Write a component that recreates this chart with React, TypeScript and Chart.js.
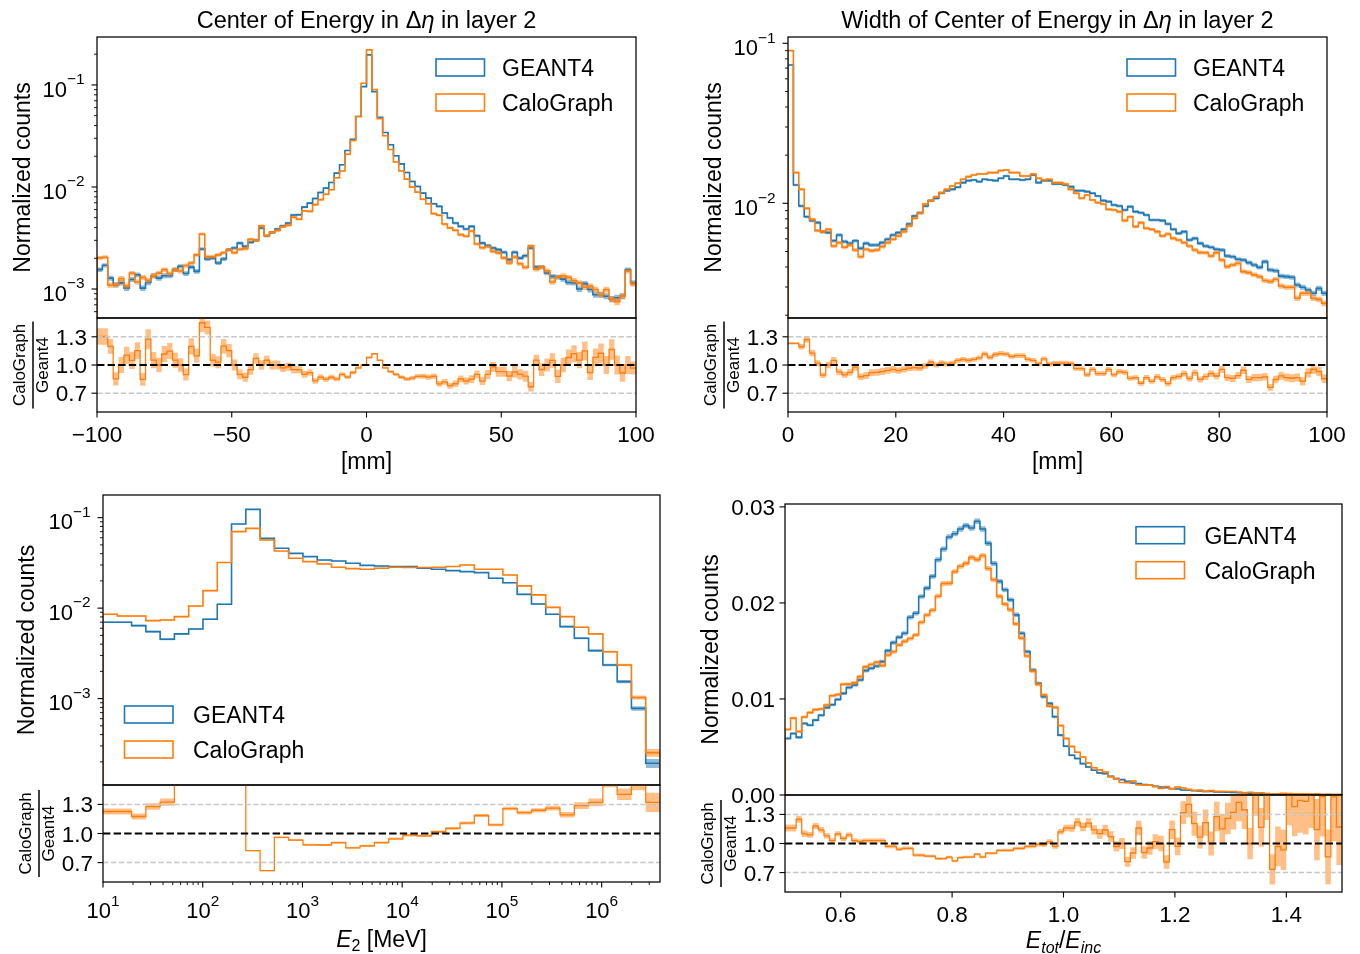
import React, { useEffect, useRef } from "react";
import { Chart, registerables } from "chart.js";

Chart.register(...registerables);

// ------------------------------------------------------------------ data
const seriesLabels = ["GEANT4", "CaloGraph"];
const ratioNumerator = "CaloGraph";
const ratioDenominator = "Geant4";
const yAxisLabel = "Normalized counts";

// Panel 1: Center of Energy in Δη in layer 2
const ceEtaTitle = ["Center of Energy in ", "Δ", "η", " in layer 2"];
const ceEtaXLabel = "[mm]";
const ceEtaRange = [-100, 100];
const ceEtaBins = 100;
const ceEtaGeant4 = [
  0.00155, 0.00171, 0.00128, 0.0011, 0.00115, 0.00102, 0.00124, 0.00138, 0.00102, 0.00116,
  0.00135, 0.00128, 0.00135, 0.00135, 0.00155, 0.00167, 0.00142, 0.00164, 0.00149, 0.00247,
  0.00197, 0.00201, 0.0018, 0.00197, 0.00243, 0.00252, 0.00282, 0.00262, 0.00287, 0.003,
  0.00396, 0.00333, 0.00359, 0.00387, 0.00417, 0.00443, 0.00531, 0.00535, 0.00635, 0.00695,
  0.00772, 0.00884, 0.00975, 0.01107, 0.01367, 0.01649, 0.02278, 0.0294, 0.049, 0.0963,
  0.197, 0.086, 0.0482, 0.0342, 0.0259, 0.0202, 0.01686, 0.01388, 0.01133, 0.01012,
  0.00871, 0.00778, 0.00685, 0.00645, 0.00555, 0.00496, 0.00443, 0.00411, 0.00387, 0.00411,
  0.00333, 0.00282, 0.00266, 0.00252, 0.00243, 0.00229, 0.00194, 0.00229, 0.00201, 0.00212,
  0.00252, 0.00164, 0.00164, 0.00144, 0.00133, 0.00131, 0.00125, 0.00116, 0.00115, 0.001,
  0.00113, 0.00099, 0.00088, 0.00088, 0.00085, 0.0008, 0.00082, 0.00085, 0.00155, 0.00115,
];
const ceEtaCaloGraph = [
  0.00202, 0.00205, 0.00109, 0.0011, 0.00127, 0.00107, 0.00143, 0.00117, 0.0013, 0.00122,
  0.00135, 0.00143, 0.00155, 0.00142, 0.00155, 0.0015, 0.0017, 0.0018, 0.00216, 0.00346,
  0.00207, 0.00207, 0.00216, 0.00227, 0.00243, 0.00227, 0.00245, 0.00249, 0.00307, 0.003,
  0.00416, 0.00333, 0.00359, 0.00375, 0.00409, 0.00421, 0.00504, 0.00482, 0.00584, 0.00577,
  0.00672, 0.00751, 0.00848, 0.00941, 0.0123, 0.01435, 0.02096, 0.02852, 0.049, 0.104,
  0.2206, 0.0903, 0.04675, 0.0318, 0.02331, 0.01757, 0.01433, 0.01194, 0.00997, 0.00891,
  0.00758, 0.00685, 0.00548, 0.00529, 0.00433, 0.00397, 0.00377, 0.00341, 0.00329, 0.0037,
  0.00276, 0.00254, 0.00261, 0.00234, 0.00226, 0.00202, 0.0018, 0.00206, 0.00177, 0.00163,
  0.00265, 0.00156, 0.00164, 0.00151, 0.00117, 0.00131, 0.00135, 0.0013, 0.00121, 0.00115,
  0.00104, 0.00107, 0.00099, 0.00088, 0.00099, 0.0008, 0.00075, 0.00085, 0.0015, 0.00112,
];
const ceEtaEvents = 250000;
const ceEtaXTicks = [-100, -50, 0, 50, 100];
const ceEtaXTickLabels = ["−100", "−50", "0", "50", "100"];
const ceEtaYDecades = [-3, -2, -1];
const ceEtaYLimits = [5.2e-4, 0.295];

// Panel 2: Width of Center of Energy in Δη in layer 2
const widthTitle = ["Width of Center of Energy in ", "Δ", "η", " in layer 2"];
const widthXLabel = "[mm]";
const widthRange = [0, 100];
const widthBins = 100;
const widthGeant4 = [
  0.0732, 0.01302, 0.00962, 0.00825, 0.00779, 0.00757, 0.00665, 0.00656, 0.00584, 0.00634,
  0.00576, 0.00562, 0.00584, 0.00523, 0.00562, 0.00549, 0.00549, 0.00568, 0.00596, 0.00634,
  0.00656, 0.00688, 0.00743, 0.00833, 0.00874, 0.00962, 0.01039, 0.01075, 0.01155, 0.012,
  0.01223, 0.01259, 0.01346, 0.01386, 0.01399, 0.01366, 0.01413, 0.01399, 0.01386, 0.01433,
  0.01482, 0.01413, 0.01413, 0.01399, 0.01413, 0.01504, 0.01346, 0.01386, 0.01386, 0.0132,
  0.0132, 0.01302, 0.01271, 0.012, 0.012, 0.01183, 0.01155, 0.01111, 0.01039, 0.01024,
  0.00976, 0.00962, 0.00908, 0.00953, 0.00887, 0.00874, 0.00845, 0.00787, 0.00787, 0.00779,
  0.00743, 0.00688, 0.00649, 0.00665, 0.0059, 0.00604, 0.00562, 0.00541, 0.00531, 0.00516,
  0.00511, 0.00469, 0.00464, 0.00447, 0.00442, 0.00426, 0.00412, 0.00398, 0.00432, 0.00383,
  0.00379, 0.00351, 0.00348, 0.00345, 0.00309, 0.00299, 0.00287, 0.00274, 0.00294, 0.00274,
];
const widthCaloGraph = [
  0.09, 0.01555, 0.01223, 0.0093, 0.00794, 0.00675, 0.00665, 0.00688, 0.00541, 0.00568,
  0.00531, 0.00549, 0.00511, 0.00464, 0.00516, 0.00506, 0.00511, 0.00536, 0.00568, 0.00596,
  0.00625, 0.00665, 0.00722, 0.00806, 0.00866, 0.0099, 0.01039, 0.011, 0.01166, 0.01223,
  0.01283, 0.01334, 0.01413, 0.01468, 0.01504, 0.01526, 0.01526, 0.01555, 0.01555, 0.016,
  0.01616, 0.01555, 0.01555, 0.01482, 0.01482, 0.01526, 0.01433, 0.01399, 0.01413, 0.01346,
  0.01346, 0.0132, 0.01223, 0.01155, 0.01075, 0.01128, 0.01049, 0.0101, 0.0099, 0.00917,
  0.00908, 0.00887, 0.00779, 0.00825, 0.00715, 0.00757, 0.00698, 0.00688, 0.00665, 0.00625,
  0.00643, 0.00604, 0.0059, 0.00568, 0.00541, 0.00511, 0.00492, 0.00492, 0.00469, 0.00492,
  0.00442, 0.00402, 0.00412, 0.00422, 0.00374, 0.00369, 0.00357, 0.00348, 0.00329, 0.00324,
  0.00335, 0.00304, 0.00299, 0.00299, 0.00255, 0.00274, 0.00274, 0.00255, 0.00251, 0.00237,
];
const widthEvents = 250000;
const widthXTicks = [0, 20, 40, 60, 80, 100];
const widthXTickLabels = ["0", "20", "40", "60", "80", "100"];
const widthYDecades = [-2, -1];
const widthYLimits = [0.00192, 0.1095];

// Panel 3: E_2 [MeV]
const e2XLabel = ["E", "2", " [MeV]"];
const e2BinEdgeExponents = [
  1.0, 1.1432, 1.2864, 1.4296, 1.5728, 1.716, 1.8592, 2.0025, 2.1457, 2.2889,
  2.4321, 2.5753, 2.7185, 2.8617, 3.0049, 3.1481, 3.2913, 3.4345, 3.5777, 3.7209,
  3.8642, 4.0074, 4.1506, 4.2938, 4.437, 4.5802, 4.7234, 4.8666, 5.0098, 5.153,
  5.2962, 5.4394, 5.5826, 5.7259, 5.8691, 6.0123, 6.1555, 6.2987, 6.4419, 6.5851,
];
const e2Geant4 = [
  0.00697, 0.00697, 0.00641, 0.0055, 0.00453, 0.00519, 0.00589, 0.00754, 0.01102, 0.0851,
  0.1236, 0.0591, 0.0459, 0.0403, 0.0371, 0.034, 0.0332, 0.0313, 0.0297, 0.0292,
  0.0288, 0.0288, 0.0276, 0.0269, 0.026, 0.0253, 0.0247, 0.0214, 0.0191, 0.0142,
  0.0111, 0.00855, 0.00625, 0.00465, 0.00339, 0.00235, 0.00154, 0.00078, 0.000193,
];
const e2CaloGraph = [
  0.00855, 0.00819, 0.00819, 0.00728, 0.0074, 0.00805, 0.01057, 0.0156, 0.0319, 0.07,
  0.0762, 0.0567, 0.0428, 0.0356, 0.0327, 0.0308, 0.0283, 0.0273, 0.0269, 0.0276,
  0.0283, 0.0281, 0.0281, 0.0283, 0.0288, 0.03, 0.0269, 0.0269, 0.0232, 0.0176,
  0.014, 0.0102, 0.00805, 0.00614, 0.00519, 0.0033, 0.00235, 0.00103, 0.000253,
];
const e2Events = 400000;
const e2XDecades = [1, 2, 3, 4, 5, 6];
const e2YDecades = [-3, -2, -1];
const e2YLimits = [1.11e-4, 0.178];

// Panel 4: E_tot / E_inc
const respXLabel = ["E", "tot", "/", "E", "inc"];
const respRange = [0.5, 1.5];
const respBins = 100;
const respGeant4 = [
  0.00588, 0.0064, 0.006, 0.00745, 0.00727, 0.0078, 0.0083, 0.0091, 0.0094, 0.00995,
  0.01058, 0.0112, 0.01145, 0.01197, 0.01295, 0.01319, 0.01343, 0.01389, 0.01503, 0.01587,
  0.01643, 0.01684, 0.01851, 0.01893, 0.02067, 0.02154, 0.02276, 0.0245, 0.02561, 0.02687,
  0.02721, 0.0277, 0.02805, 0.0278, 0.0285, 0.0277, 0.0262, 0.0241, 0.02224, 0.02137,
  0.02032, 0.01876, 0.01684, 0.01493, 0.01302, 0.01162, 0.01023, 0.00954, 0.00814, 0.00623,
  0.00508, 0.00414, 0.0038, 0.00327, 0.00292, 0.00258, 0.0023, 0.00223, 0.00195, 0.00171,
  0.0016, 0.00143, 0.00125, 0.00118, 0.00108, 0.00101, 0.0009, 0.00084, 0.00077, 0.00066,
  0.00063, 0.00052, 0.00049, 0.00045, 0.00042, 0.00038, 0.00036, 0.00033, 0.00031, 0.00028,
  0.00026, 0.00023, 0.00022, 0.00019, 0.00018, 0.00016, 0.00015, 0.00013, 0.00012, 0.00011,
  0.0001, 0.00009, 0.000085, 0.000075, 0.00007, 0.000062, 0.000058, 0.00005, 0.000047, 0.00004,
];
const respCaloGraph = [
  0.00682, 0.008, 0.0066, 0.00812, 0.00858, 0.00889, 0.00896, 0.00937, 0.01034, 0.01045,
  0.01153, 0.01154, 0.01168, 0.01233, 0.01334, 0.01359, 0.01383, 0.01347, 0.01458, 0.01492,
  0.01561, 0.016, 0.01629, 0.01666, 0.01798, 0.01874, 0.01923, 0.0207, 0.02202, 0.02203,
  0.02326, 0.02382, 0.02412, 0.02474, 0.02451, 0.02493, 0.02358, 0.02241, 0.02068, 0.01987,
  0.0193, 0.01782, 0.01633, 0.01448, 0.01289, 0.0115, 0.01043, 0.00925, 0.00912, 0.00723,
  0.00589, 0.00505, 0.00445, 0.00396, 0.00333, 0.00284, 0.00262, 0.00239, 0.00189, 0.00171,
  0.0013, 0.00129, 0.00145, 0.00107, 0.00103, 0.00103, 0.0009, 0.00068, 0.00088, 0.00064,
  0.00083, 0.00073, 0.00059, 0.00048, 0.00051, 0.00038, 0.00046, 0.00038, 0.00039, 0.00037,
  0.00037, 0.00031, 0.00022, 0.00029, 0.00021, 0.00024, 0.00011, 0.000126, 0.000112, 0.000165,
  0.000138, 0.00013, 0.000122, 0.000116, 0.00008, 0.000092, 0.00005, 0.000074, 0.000055, 0.000047,
];
const respEvents = 350000;
const respXTicks = [0.6, 0.8, 1.0, 1.2, 1.4];
const respXTickLabels = ["0.6", "0.8", "1.0", "1.2", "1.4"];
const respYTicks = [0, 0.01, 0.02, 0.03];
const respYTickLabels = ["0.00", "0.01", "0.02", "0.03"];
const respYLimits = [0, 0.0303];

// Ratio panels
const ratioTicks = [0.7, 1.0, 1.3];
const ratioTickLabels = ["0.7", "1.0", "1.3"];
const ratioLimits = [0.5, 1.5];
// the reference draws each ratio step one bin to the right of its histogram bin
const ratioBinOffset = 1;

// ------------------------------------------------------------------ style / layout
const PAGE_W = 1360;
const PAGE_H = 954;
const FONT = '"Liberation Sans", Arial, Helvetica, sans-serif';
const BLUE = "#1f77b4";
const ORANGE = "#ff7f0e";
const BLUE_FILL = "rgba(31,119,180,0.5)";
const ORANGE_FILL = "rgba(255,127,14,0.5)";
const TICK_FS = 22.5;
const LABEL_FS = 23;
const TITLE_FS = 23.5;
const LEGEND_FS = 23;
const FRAC_FS = 17;

type Box = { l: number; r: number; t: number; b: number };
type Run = { t: string; size: number; it?: boolean; dy?: number };
type TickDef = { v: number; runs?: Run[]; minor?: boolean };

// ------------------------------------------------------------------ helpers
function fontOf(r: Run) {
  return `${r.it ? "italic " : ""}${r.size}px ${FONT}`;
}
function runsWidth(ctx: CanvasRenderingContext2D, runs: Run[]) {
  let w = 0;
  for (const r of runs) {
    ctx.font = fontOf(r);
    w += ctx.measureText(r.t).width;
  }
  return w;
}
function drawRuns(ctx: CanvasRenderingContext2D, runs: Run[], x: number, y: number, align: string) {
  const w = runsWidth(ctx, runs);
  let cx = align === "left" ? x : align === "center" ? x - w / 2 : x - w;
  ctx.textAlign = "left";
  ctx.textBaseline = "alphabetic";
  for (const r of runs) {
    ctx.font = fontOf(r);
    ctx.fillText(r.t, cx, y + (r.dy || 0));
    cx += ctx.measureText(r.t).width;
  }
}
function drawRotated(ctx: CanvasRenderingContext2D, runs: Run[], x: number, y: number) {
  ctx.save();
  ctx.translate(x, y);
  ctx.rotate(-Math.PI / 2);
  drawRuns(ctx, runs, 0, 0, "center");
  ctx.restore();
}

function uniformEdges(range: number[], bins: number) {
  const e: number[] = [];
  for (let i = 0; i <= bins; i++) e.push(range[0] + ((range[1] - range[0]) * i) / bins);
  return e;
}
function histPoints(edges: number[], vals: number[], floor: number) {
  const pts = [{ x: edges[0], y: floor }];
  vals.forEach((v, i) => pts.push({ x: edges[i], y: v }));
  pts.push({ x: edges[vals.length], y: floor });
  return pts;
}
function stairPoints(edges: number[], vals: number[]) {
  const pts = vals.map((v, i) => ({ x: edges[i], y: v }));
  pts.push({ x: edges[vals.length], y: vals[vals.length - 1] });
  return pts;
}
function offsetSteps(vals: number[], off: number) {
  return vals.map((_, j) => vals[Math.max(j - off, 0)]);
}
function lineDS(points: any[], color: string, width: number, order: number) {
  return {
    data: points,
    borderColor: color,
    backgroundColor: color,
    borderWidth: width,
    pointRadius: 0,
    pointHoverRadius: 0,
    fill: false,
    stepped: "before",
    tension: 0,
    order,
  };
}
function bandDS(edges: number[], lo: number[], hi: number[], color: string, order: number) {
  return [
    {
      data: stairPoints(edges, hi),
      borderColor: "rgba(0,0,0,0)",
      borderWidth: 0,
      pointRadius: 0,
      fill: false,
      stepped: "before",
      order: order + 1,
    },
    {
      data: stairPoints(edges, lo),
      borderColor: "rgba(0,0,0,0)",
      backgroundColor: color,
      borderWidth: 0,
      pointRadius: 0,
      fill: "-1",
      stepped: "before",
      order,
    },
  ];
}

function logMajor(decades: number[], size: number, supDy: number): TickDef[] {
  return decades.map((d) => ({
    v: Math.pow(10, d),
    runs: [
      { t: "10", size },
      { t: String(d).replace("-", "−"), size: size * 0.7, dy: supDy },
    ],
  }));
}
function logMinor(min: number, max: number): TickDef[] {
  const out: TickDef[] = [];
  for (let d = Math.floor(Math.log10(min)); d <= Math.ceil(Math.log10(max)); d++) {
    for (let m = 2; m <= 9; m++) {
      const v = m * Math.pow(10, d);
      if (v >= min && v <= max) out.push({ v, minor: true });
    }
  }
  return out;
}
function linearTicks(vals: number[], labels: string[]): TickDef[] {
  return vals.map((v, i) => ({ v, runs: [{ t: labels[i], size: TICK_FS }] }));
}

function drawLegend(ctx: CanvasRenderingContext2D, boxL: number, boxT: number, textL: number) {
  const colors = [BLUE, ORANGE];
  seriesLabels.forEach((name, i) => {
    const top = boxT + i * 35;
    ctx.strokeStyle = colors[i];
    ctx.lineWidth = 1.6;
    ctx.setLineDash([]);
    ctx.strokeRect(boxL, top, 48.5, 17);
    ctx.fillStyle = "#000";
    drawRuns(ctx, [{ t: name, size: LEGEND_FS }], textL, top + 17, "left");
  });
}
function drawYLabel(ctx: CanvasRenderingContext2D, box: Box, offset: number) {
  ctx.fillStyle = "#000";
  drawRotated(ctx, [{ t: yAxisLabel, size: LABEL_FS }], box.l - offset + 0.358 * LABEL_FS, (box.t + box.b) / 2);
}
function drawRatioLabel(ctx: CanvasRenderingContext2D, box: Box) {
  const cy = (box.t + box.b) / 2;
  ctx.fillStyle = "#000";
  drawRotated(ctx, [{ t: ratioNumerator, size: FRAC_FS }], box.l - 72.3, cy);
  drawRotated(ctx, [{ t: ratioDenominator, size: FRAC_FS }], box.l - 49.3, cy);
  ctx.strokeStyle = "#000";
  ctx.lineWidth = 1.5;
  ctx.setLineDash([]);
  ctx.beginPath();
  ctx.moveTo(box.l - 64, cy - 43.5);
  ctx.lineTo(box.l - 64, cy + 43.5);
  ctx.stroke();
}
function titleRuns(parts: string[]): Run[] {
  return parts.map((p, i) => ({ t: p, size: TITLE_FS, it: i === 2 }));
}

// ------------------------------------------------------------------ plugin
function decoPlugin(id: string, spec: any) {
  return {
    id,
    afterDatasetsDraw(chart: any) {
      if (!spec.refLines) return;
      const { ctx, chartArea: a, scales } = chart;
      ctx.save();
      const lines = [
        { v: 0.7, c: "#c8c8c8", w: 1.5, d: [5.5, 2.4] },
        { v: 1.3, c: "#c8c8c8", w: 1.5, d: [5.5, 2.4] },
        { v: 1.0, c: "#000000", w: 2, d: [7.4, 3.2] },
      ];
      for (const ln of lines) {
        const y = scales.y.getPixelForValue(ln.v);
        ctx.strokeStyle = ln.c;
        ctx.lineWidth = ln.w;
        ctx.setLineDash(ln.d);
        ctx.beginPath();
        ctx.moveTo(a.left, y);
        ctx.lineTo(a.right, y);
        ctx.stroke();
      }
      ctx.restore();
    },
    afterDraw(chart: any) {
      const { ctx, chartArea: a, scales } = chart;
      ctx.save();
      ctx.setLineDash([]);
      ctx.strokeStyle = "#000";
      ctx.lineWidth = 1.25;
      ctx.strokeRect(a.left, a.top, a.right - a.left, a.bottom - a.top);
      ctx.fillStyle = "#000";
      for (const tk of spec.yTicks || []) {
        const y = scales.y.getPixelForValue(tk.v);
        ctx.lineWidth = tk.minor ? 0.9 : 1.1;
        ctx.beginPath();
        ctx.moveTo(a.left, y);
        ctx.lineTo(a.left - (tk.minor ? 3 : 5.5), y);
        ctx.stroke();
        if (tk.runs) {
          const sup = tk.runs.length > 1;
          drawRuns(ctx, tk.runs, a.left - (sup ? 12.5 : 10), y + (sup ? 11.7 : 8), "right");
        }
      }
      for (const tk of spec.xTicks || []) {
        const x = scales.x.getPixelForValue(tk.v);
        ctx.lineWidth = tk.minor ? 0.9 : 1.1;
        ctx.beginPath();
        ctx.moveTo(x, a.bottom);
        ctx.lineTo(x, a.bottom + (tk.minor ? 3 : 5.5));
        ctx.stroke();
        if (tk.runs) {
          const sup = tk.runs.length > 1;
          drawRuns(ctx, tk.runs, x, a.bottom + (sup ? 35.5 : 29.7), "center");
        }
      }
      if (spec.extra) spec.extra(ctx, a);
      ctx.restore();
    },
  };
}

// ------------------------------------------------------------------ chart configs
function panelConfigs(p: any) {
  const g4 = p.g4 as number[];
  const cg = p.cg as number[];
  const N = p.events as number;
  const g4Lo = g4.map((v) => v - Math.sqrt(v / N));
  const g4Hi = g4.map((v) => v + Math.sqrt(v / N));
  const cgLo = cg.map((v) => v - Math.sqrt(v / N));
  const cgHi = cg.map((v) => v + Math.sqrt(v / N));
  const ratio = cg.map((v, i) => v / g4[i]);
  const rErr = ratio.map((r, i) => r * Math.sqrt(1 / (N * cg[i]) + 1 / (N * g4[i])));
  const rShown = offsetSteps(ratio, ratioBinOffset);
  const rLo = offsetSteps(ratio.map((r, i) => r - rErr[i]), ratioBinOffset);
  const rHi = offsetSteps(ratio.map((r, i) => r + rErr[i]), ratioBinOffset);
  const floor = p.yType === "logarithmic" ? 1e-9 : 0;

  const common = (box: Box) => ({
    responsive: false,
    animation: false,
    events: [],
    layout: {
      autoPadding: false,
      padding: { left: box.l, top: box.t, right: PAGE_W - box.r, bottom: PAGE_H - box.b },
    },
    plugins: { legend: { display: false }, tooltip: { enabled: false }, title: { display: false } },
  });

  const mainCfg = {
    type: "line",
    data: {
      datasets: [
        ...bandDS(p.edges, g4Lo, g4Hi, BLUE_FILL, 5),
        lineDS(histPoints(p.edges, g4, floor), BLUE, 1.6, 4),
        ...bandDS(p.edges, cgLo, cgHi, ORANGE_FILL, 2),
        lineDS(histPoints(p.edges, cg, floor), ORANGE, 1.6, 1),
      ],
    },
    options: {
      ...common(p.main),
      scales: {
        x: { type: p.xType, min: p.xMin, max: p.xMax, display: false, bounds: "data" },
        y: { type: p.yType, min: p.yMin, max: p.yMax, display: false, bounds: "data" },
      },
    },
    plugins: [decoPlugin(p.id + "main", { yTicks: p.mainYTicks, extra: p.mainExtra })],
  };
  const ratioCfg = {
    type: "line",
    data: {
      datasets: [...bandDS(p.edges, rLo, rHi, ORANGE_FILL, 2), lineDS(stairPoints(p.edges, rShown), ORANGE, 1.3, 1)],
    },
    options: {
      ...common(p.ratio),
      scales: {
        x: { type: p.xType, min: p.xMin, max: p.xMax, display: false, bounds: "data" },
        y: { type: "linear", min: ratioLimits[0], max: ratioLimits[1], display: false, bounds: "data" },
      },
    },
    plugins: [
      decoPlugin(p.id + "ratio", {
        refLines: true,
        yTicks: linearTicks(ratioTicks, ratioTickLabels),
        xTicks: p.xTicks,
        extra: p.ratioExtra,
      }),
    ],
  };
  return [mainCfg, ratioCfg];
}

function buildAll() {
  // Panel A
  const aMain: Box = { l: 97, r: 636, t: 37, b: 318 };
  const aRatio: Box = { l: 97, r: 636, t: 318, b: 412 };
  const A = panelConfigs({
    id: "A",
    edges: uniformEdges(ceEtaRange, ceEtaBins),
    g4: ceEtaGeant4,
    cg: ceEtaCaloGraph,
    events: ceEtaEvents,
    xType: "linear",
    xMin: ceEtaRange[0],
    xMax: ceEtaRange[1],
    yType: "logarithmic",
    yMin: ceEtaYLimits[0],
    yMax: ceEtaYLimits[1],
    main: aMain,
    ratio: aRatio,
    mainYTicks: [...logMinor(ceEtaYLimits[0], ceEtaYLimits[1]), ...logMajor(ceEtaYDecades, 22, -12.5)],
    xTicks: linearTicks(ceEtaXTicks, ceEtaXTickLabels),
    mainExtra: (ctx: CanvasRenderingContext2D) => {
      ctx.fillStyle = "#000";
      drawRuns(ctx, titleRuns(ceEtaTitle), (aMain.l + aMain.r) / 2, 28.3, "center");
      drawYLabel(ctx, aMain, 75);
      drawLegend(ctx, aMain.r - 200, aMain.t + 22, aMain.r - 134);
    },
    ratioExtra: (ctx: CanvasRenderingContext2D) => {
      drawRatioLabel(ctx, aRatio);
      ctx.fillStyle = "#000";
      drawRuns(ctx, [{ t: ceEtaXLabel, size: LABEL_FS }], (aRatio.l + aRatio.r) / 2, 468.5, "center");
    },
  });

  // Panel B
  const bMain: Box = { l: 788, r: 1327, t: 37, b: 318 };
  const bRatio: Box = { l: 788, r: 1327, t: 318, b: 412 };
  const B = panelConfigs({
    id: "B",
    edges: uniformEdges(widthRange, widthBins),
    g4: widthGeant4,
    cg: widthCaloGraph,
    events: widthEvents,
    xType: "linear",
    xMin: widthRange[0],
    xMax: widthRange[1],
    yType: "logarithmic",
    yMin: widthYLimits[0],
    yMax: widthYLimits[1],
    main: bMain,
    ratio: bRatio,
    mainYTicks: [...logMinor(widthYLimits[0], widthYLimits[1]), ...logMajor(widthYDecades, 22, -12.5)],
    xTicks: linearTicks(widthXTicks, widthXTickLabels),
    mainExtra: (ctx: CanvasRenderingContext2D) => {
      ctx.fillStyle = "#000";
      drawRuns(ctx, titleRuns(widthTitle), (bMain.l + bMain.r) / 2, 28.3, "center");
      drawYLabel(ctx, bMain, 75);
      drawLegend(ctx, bMain.r - 200, bMain.t + 22, bMain.r - 134);
    },
    ratioExtra: (ctx: CanvasRenderingContext2D) => {
      drawRatioLabel(ctx, bRatio);
      ctx.fillStyle = "#000";
      drawRuns(ctx, [{ t: widthXLabel, size: LABEL_FS }], (bRatio.l + bRatio.r) / 2, 468.5, "center");
    },
  });

  // Panel C
  const cMain: Box = { l: 103, r: 660, t: 495, b: 785 };
  const cRatio: Box = { l: 103, r: 660, t: 785, b: 882 };
  const cEdges = e2BinEdgeExponents.map((e) => Math.pow(10, e));
  const C = panelConfigs({
    id: "C",
    edges: cEdges,
    g4: e2Geant4,
    cg: e2CaloGraph,
    events: e2Events,
    xType: "logarithmic",
    xMin: cEdges[0],
    xMax: cEdges[cEdges.length - 1],
    yType: "logarithmic",
    yMin: e2YLimits[0],
    yMax: e2YLimits[1],
    main: cMain,
    ratio: cRatio,
    mainYTicks: [...logMinor(e2YLimits[0], e2YLimits[1]), ...logMajor(e2YDecades, 22, -12.5)],
    xTicks: [...logMinor(cEdges[0], cEdges[cEdges.length - 1]), ...logMajor(e2XDecades, 22, -12)],
    mainExtra: (ctx: CanvasRenderingContext2D) => {
      drawYLabel(ctx, cMain, 77);
      drawLegend(ctx, cMain.l + 21.5, cMain.b - 79, cMain.l + 90);
    },
    ratioExtra: (ctx: CanvasRenderingContext2D) => {
      drawRatioLabel(ctx, cRatio);
      ctx.fillStyle = "#000";
      drawRuns(
        ctx,
        [
          { t: e2XLabel[0], size: LABEL_FS, it: true },
          { t: e2XLabel[1], size: 16, dy: 4.5 },
          { t: e2XLabel[2], size: LABEL_FS },
        ],
        (cRatio.l + cRatio.r) / 2,
        946.7,
        "center"
      );
    },
  });

  // Panel D
  const dMain: Box = { l: 785, r: 1342, t: 504, b: 795 };
  const dRatio: Box = { l: 785, r: 1342, t: 795, b: 892 };
  const D = panelConfigs({
    id: "D",
    edges: uniformEdges(respRange, respBins),
    g4: respGeant4,
    cg: respCaloGraph,
    events: respEvents,
    xType: "linear",
    xMin: respRange[0],
    xMax: respRange[1],
    yType: "linear",
    yMin: respYLimits[0],
    yMax: respYLimits[1],
    main: dMain,
    ratio: dRatio,
    mainYTicks: linearTicks(respYTicks, respYTickLabels),
    xTicks: linearTicks(respXTicks, respXTickLabels),
    mainExtra: (ctx: CanvasRenderingContext2D) => {
      drawYLabel(ctx, dMain, 75.7);
      drawLegend(ctx, dMain.r - 206, dMain.t + 22.7, dMain.r - 137.6);
    },
    ratioExtra: (ctx: CanvasRenderingContext2D) => {
      drawRatioLabel(ctx, dRatio);
      ctx.fillStyle = "#000";
      drawRuns(
        ctx,
        [
          { t: respXLabel[0], size: LABEL_FS, it: true },
          { t: respXLabel[1], size: 16, it: true, dy: 4.5 },
          { t: respXLabel[2], size: LABEL_FS },
          { t: respXLabel[3], size: LABEL_FS, it: true },
          { t: respXLabel[4], size: 16, it: true, dy: 4.5 },
        ],
        (dRatio.l + dRatio.r) / 2,
        948.3,
        "center"
      );
    },
  });

  return [...A, ...B, ...C, ...D];
}

// ------------------------------------------------------------------ component
export default function App() {
  const refs = useRef<(HTMLCanvasElement | null)[]>([]);
  useEffect(() => {
    const configs = buildAll();
    const charts = configs.map((cfg, i) => new Chart(refs.current[i] as HTMLCanvasElement, cfg as any));
    return () => charts.forEach((c) => c.destroy());
  }, []);
  return (
    <div style={{ position: "absolute", left: 0, top: 0, width: PAGE_W, height: PAGE_H, background: "#fff", overflow: "hidden" }}>
      {Array.from({ length: 8 }).map((_, i) => (
        <canvas
          key={i}
          ref={(el) => {
            refs.current[i] = el;
          }}
          width={PAGE_W}
          height={PAGE_H}
          style={{ position: "absolute", left: 0, top: 0, width: PAGE_W, height: PAGE_H }}
        />
      ))}
    </div>
  );
}
